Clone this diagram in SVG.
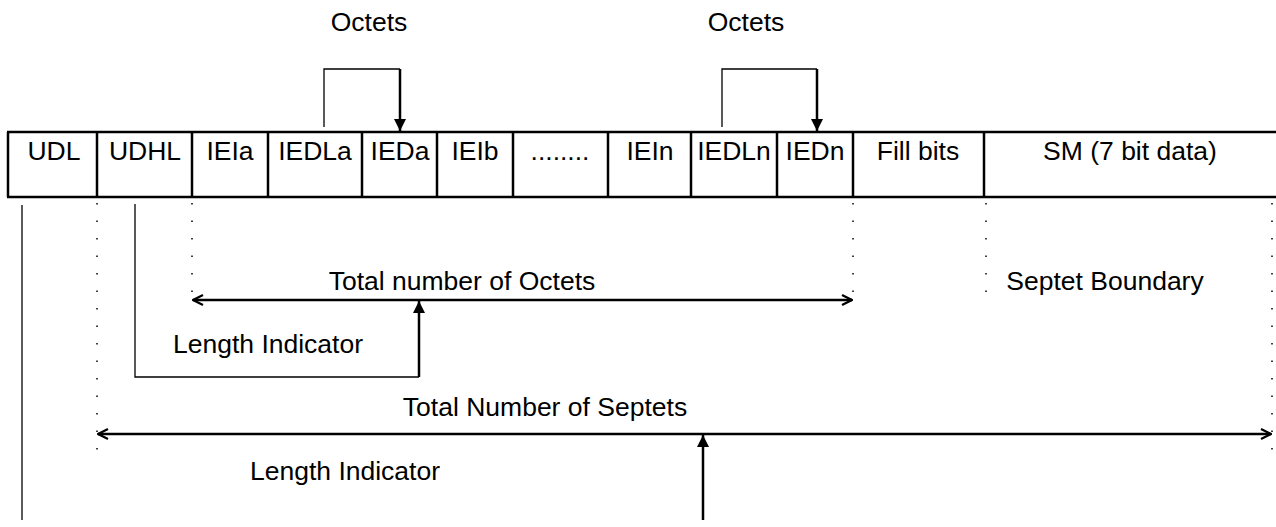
<svg xmlns="http://www.w3.org/2000/svg" width="1276" height="527" viewBox="0 0 1276 527">
<style>
text{font-family:"Liberation Sans",Arial,sans-serif;font-size:26.5px;fill:#000}
.c{text-anchor:middle}
.tb{stroke:#000;stroke-width:2.5;fill:none}
.thin{stroke:#000;stroke-width:1.3;fill:none}
.thick{stroke:#000;stroke-width:2.5;fill:none}
.dot{stroke:#000;stroke-width:1.5;stroke-dasharray:1.5 16;fill:none}
</style>
<defs>
<marker id="tri" viewBox="0 0 12 12" refX="12" refY="6" markerWidth="12" markerHeight="12" markerUnits="userSpaceOnUse" orient="auto">
<path d="M0,0 L12,6 L0,12 Z" fill="#000"/>
</marker>
<marker id="open" viewBox="0 0 12 12" refX="11" refY="6" markerWidth="12" markerHeight="12" markerUnits="userSpaceOnUse" orient="auto-start-reverse">
<path d="M1,1 L11,6 L1,11" fill="none" stroke="#000" stroke-width="2.2"/>
</marker>
</defs>
<g id="table">
<line class="tb" x1="7" y1="132" x2="1276" y2="132"/>
<line class="tb" x1="7" y1="197" x2="1276" y2="197"/>
<line class="tb" x1="8" y1="132" x2="8" y2="197"/>
<line class="tb" x1="97" y1="132" x2="97" y2="197"/>
<line class="tb" x1="192" y1="132" x2="192" y2="197"/>
<line class="tb" x1="268" y1="132" x2="268" y2="197"/>
<line class="tb" x1="362" y1="132" x2="362" y2="197"/>
<line class="tb" x1="437" y1="132" x2="437" y2="197"/>
<line class="tb" x1="513" y1="132" x2="513" y2="197"/>
<line class="tb" x1="608" y1="132" x2="608" y2="197"/>
<line class="tb" x1="691" y1="132" x2="691" y2="197"/>
<line class="tb" x1="777" y1="132" x2="777" y2="197"/>
<line class="tb" x1="853" y1="132" x2="853" y2="197"/>
<line class="tb" x1="984" y1="132" x2="984" y2="197"/>
</g>
<g id="cell-udl"><text class="c" x="54" y="160">UDL</text></g>
<g id="cell-udhl"><text class="c" x="145" y="160">UDHL</text></g>
<g id="cell-ieia"><text class="c" x="230" y="160">IEIa</text></g>
<g id="cell-iedla"><text class="c" x="315" y="160">IEDLa</text></g>
<g id="cell-ieda"><text class="c" x="400" y="160">IEDa</text></g>
<g id="cell-ieib"><text class="c" x="475" y="160">IEIb</text></g>
<g id="cell-dots"><text class="c" x="560" y="160">........</text></g>
<g id="cell-iein"><text class="c" x="650" y="160">IEIn</text></g>
<g id="cell-iedln"><text class="c" x="734" y="160">IEDLn</text></g>
<g id="cell-iedn"><text class="c" x="815" y="160">IEDn</text></g>
<g id="cell-fill"><text class="c" x="918" y="160">Fill bits</text></g>
<g id="cell-sm"><text class="c" x="1130" y="160">SM (7 bit data)</text></g>
<g id="label-octets-a"><text class="c" x="369" y="31">Octets</text></g>
<g id="label-octets-n"><text class="c" x="746" y="31">Octets</text></g>
<g id="label-total-octets"><text class="c" x="462" y="290">Total number of Octets</text></g>
<g id="label-septet-boundary"><text class="c" x="1105" y="290">Septet Boundary</text></g>
<g id="label-li-1"><text class="c" x="268" y="353">Length Indicator</text></g>
<g id="label-total-septets"><text class="c" x="545" y="416">Total Number of Septets</text></g>
<g id="label-li-2"><text class="c" x="345" y="480">Length Indicator</text></g>
<g id="connectors">
<path class="thin" d="M324,127 V69 H400"/>
<path class="thick" d="M400,69 V131" marker-end="url(#tri)"/>
<path class="thin" d="M722,127 V69 H817"/>
<path class="thick" d="M817,69 V131" marker-end="url(#tri)"/>
<line class="dot" x1="97" y1="203" x2="97" y2="452"/>
<line class="dot" x1="192" y1="203" x2="192" y2="300"/>
<line class="dot" x1="853" y1="203" x2="853" y2="300"/>
<line class="dot" x1="986" y1="203" x2="986" y2="300"/>
<line class="dot" x1="1272" y1="203" x2="1272" y2="452"/>
<line class="thin" x1="22" y1="205" x2="22" y2="520"/>
<path class="thin" d="M135,204 V377 H419"/>
<path class="thick" d="M419,377 V301" marker-end="url(#tri)"/>
<line class="thick" x1="193" y1="300" x2="852" y2="300" marker-start="url(#open)" marker-end="url(#open)"/>
<line class="thick" x1="98" y1="434" x2="1271" y2="434" marker-start="url(#open)" marker-end="url(#open)"/>
<path class="thick" d="M703,520 V435" marker-end="url(#tri)"/>
</g>
</svg>
